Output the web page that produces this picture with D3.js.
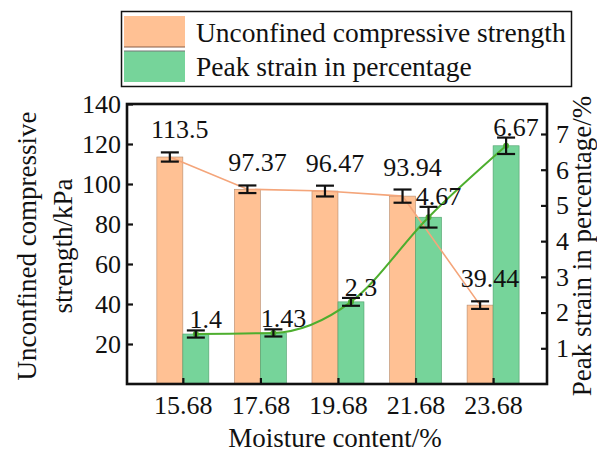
<!DOCTYPE html>
<html>
<head>
<meta charset="utf-8">
<script src="https://cdn.jsdelivr.net/npm/d3@7"></script>
<style>
  html, body { margin: 0; padding: 0; background: #fff; }
  svg { display: block; }
  text { font-family: "Liberation Serif", "Times New Roman", serif; fill: #111; }
</style>
</head>
<body>
<svg id="chart" width="597" height="452"></svg>
<script>
// Moisture content categories (%)
const moisture = [15.68, 17.68, 19.68, 21.68, 23.68];
// Unconfined compressive strength (kPa) and its error
const ucs = [113.5, 97.37, 96.47, 93.94, 39.44];
const ucsErr = [2.3, 1.9, 2.7, 3.3, 1.9];
// Peak strain (%) and its error
const strain = [1.4, 1.43, 2.3, 4.67, 6.67];
const strainErr = [0.1, 0.1, 0.11, 0.29, 0.23];
// Axis ticks
const leftTicks = [20, 40, 60, 80, 100, 120, 140];
const rightTicks = [1, 2, 3, 4, 5, 6, 7];

const W = 597, H = 452;
const margin = { left: 127, right: 50, top: 104, bottom: 68 };
const x0 = margin.left, x1 = W - margin.right;
const y0 = H - margin.bottom, y1 = margin.top;

const ORANGE = "#FFC194", ORANGE_LINE = "#F4A57A", ORANGE_EDGE = "#B58A6C";
const GREEN = "#76D49A", GREEN_LINE = "#4DAE2E", GREEN_EDGE = "#4E9E6A";
const barW = 26, labelShift = 10;
const FS_TICK = 26, FS_LABEL = 26, FS_TITLE = 27, FS_LEGEND = 27.5;

const svg = d3.select("#chart");

const x = d3.scaleLinear().domain([14.24, 25.07]).range([x0, x1]);
const yL = d3.scaleLinear().domain([0, 140]).range([y0, y1]);
const yR = d3.scaleLinear().domain([0, 7.84]).range([y0, y1]);

const ucsData = moisture.map((m, i) => ({ m, v: ucs[i], e: ucsErr[i], cx: x(m) - barW / 2 }));
const strainData = moisture.map((m, i) => ({ m, v: strain[i], e: strainErr[i], cx: x(m) + barW / 2 }));

// Bars
svg.append("g").selectAll("rect").data(ucsData).join("rect")
  .attr("x", d => d.cx - barW / 2).attr("width", barW)
  .attr("y", d => yL(d.v)).attr("height", d => y0 - yL(d.v))
  .attr("fill", ORANGE).attr("stroke", ORANGE_EDGE).attr("stroke-width", 0.6);

svg.append("g").selectAll("rect").data(strainData).join("rect")
  .attr("x", d => d.cx - barW / 2).attr("width", barW)
  .attr("y", d => yR(d.v)).attr("height", d => y0 - yR(d.v))
  .attr("fill", GREEN).attr("stroke", GREEN_EDGE).attr("stroke-width", 0.6);

// Connecting lines
svg.append("path").datum(ucsData)
  .attr("d", d3.line().x(d => d.cx).y(d => yL(d.v)))
  .attr("fill", "none").attr("stroke", ORANGE_LINE).attr("stroke-width", 1.6);

svg.append("path").datum(strainData)
  .attr("d", d3.line().x(d => d.cx).y(d => yR(d.v)).curve(d3.curveMonotoneX))
  .attr("fill", "none").attr("stroke", GREEN_LINE).attr("stroke-width", 2);

svg.append("g").selectAll("circle").data(strainData).join("circle")
  .attr("cx", d => d.cx).attr("cy", d => yR(d.v)).attr("r", 3)
  .attr("fill", GREEN_LINE);

// Error bars
function errorBars(data, y) {
  const g = svg.append("g").attr("stroke", "#111").attr("stroke-width", 2.2);
  const capW = 9;
  data.forEach(d => {
    const top = y(d.v + d.e), bot = y(d.v - d.e);
    g.append("line").attr("x1", d.cx).attr("x2", d.cx).attr("y1", top).attr("y2", bot);
    g.append("line").attr("x1", d.cx - capW).attr("x2", d.cx + capW).attr("y1", top).attr("y2", top);
    g.append("line").attr("x1", d.cx - capW).attr("x2", d.cx + capW).attr("y1", bot).attr("y2", bot);
  });
}
errorBars(ucsData, yL);
errorBars(strainData, yR);

// Value labels
svg.append("g").selectAll("text").data(ucsData).join("text")
  .attr("x", d => d.cx + labelShift).attr("y", d => yL(d.v + d.e) - 14)
  .attr("text-anchor", "middle").attr("font-size", FS_LABEL)
  .text(d => d.v);

svg.append("g").selectAll("text").data(strainData).join("text")
  .attr("x", d => d.cx + labelShift).attr("y", d => yR(d.v + d.e) - 2)
  .attr("text-anchor", "middle").attr("font-size", FS_LABEL)
  .text(d => d.v);

// Axes
const axisFont = g => g.selectAll("text").attr("font-size", FS_TICK)
  .attr("font-family", "Liberation Serif, Times New Roman, serif").attr("fill", "#111");
const axisLine = g => { g.select(".domain").remove(); g.selectAll("line").attr("stroke", "#111").attr("stroke-width", 2.2); };

svg.append("g").attr("transform", `translate(${x0},0)`)
  .call(d3.axisLeft(yL).tickValues(leftTicks).tickSize(-6).tickPadding(6))
  .call(axisLine).call(axisFont);

svg.append("g").attr("transform", `translate(${x1},0)`)
  .call(d3.axisRight(yR).tickValues(rightTicks).tickSize(-6).tickPadding(9))
  .call(axisLine).call(axisFont);

svg.append("g").attr("transform", `translate(0,${y0})`)
  .call(d3.axisBottom(x).tickValues(moisture).tickFormat(d3.format(".2f")).tickSize(-6).tickPadding(12))
  .call(axisLine).call(axisFont);

// Frame
svg.append("rect").attr("x", x0).attr("y", y1).attr("width", x1 - x0).attr("height", y0 - y1)
  .attr("fill", "none").attr("stroke", "#111").attr("stroke-width", 2.6);

// Axis titles
svg.append("text").attr("x", (x0 + x1) / 2 - 2).attr("y", 447)
  .attr("text-anchor", "middle").attr("font-size", FS_TITLE).text("Moisture content/%");

const lt = svg.append("text").attr("transform", `translate(36,${(y0 + y1) / 2 + 2}) rotate(-90)`)
  .attr("text-anchor", "middle").attr("font-size", FS_TITLE);
lt.append("tspan").attr("x", 0).attr("y", 0).text("Unconfined compressive");
lt.append("tspan").attr("x", 0).attr("y", 36).text("strength/kPa");

svg.append("text").attr("transform", `translate(591,${(y0 + y1) / 2 + 2}) rotate(-90)`)
  .attr("text-anchor", "middle").attr("font-size", FS_TITLE).text("Peak strain in percentage/%");

// Legend
const lg = svg.append("g");
lg.append("rect").attr("x", 121.5).attr("y", 11.5).attr("width", 450).attr("height", 75)
  .attr("fill", "#fff").attr("stroke", "#111").attr("stroke-width", 1.5);
lg.append("rect").attr("x", 124).attr("y", 16).attr("width", 61).attr("height", 31).attr("fill", ORANGE);
lg.append("line").attr("x1", 124).attr("x2", 185).attr("y1", 47).attr("y2", 47)
  .attr("stroke", "#8A5E46").attr("stroke-width", 1.2);
lg.append("rect").attr("x", 124).attr("y", 51).attr("width", 61).attr("height", 31).attr("fill", GREEN);
lg.append("line").attr("x1", 124).attr("x2", 185).attr("y1", 51).attr("y2", 51)
  .attr("stroke", "#777").attr("stroke-width", 1.2);
lg.append("text").attr("x", 196).attr("y", 42).attr("font-size", FS_LEGEND).text("Unconfined compressive strength");
lg.append("text").attr("x", 196).attr("y", 76).attr("font-size", FS_LEGEND).text("Peak strain in percentage");
</script>
</body>
</html>
